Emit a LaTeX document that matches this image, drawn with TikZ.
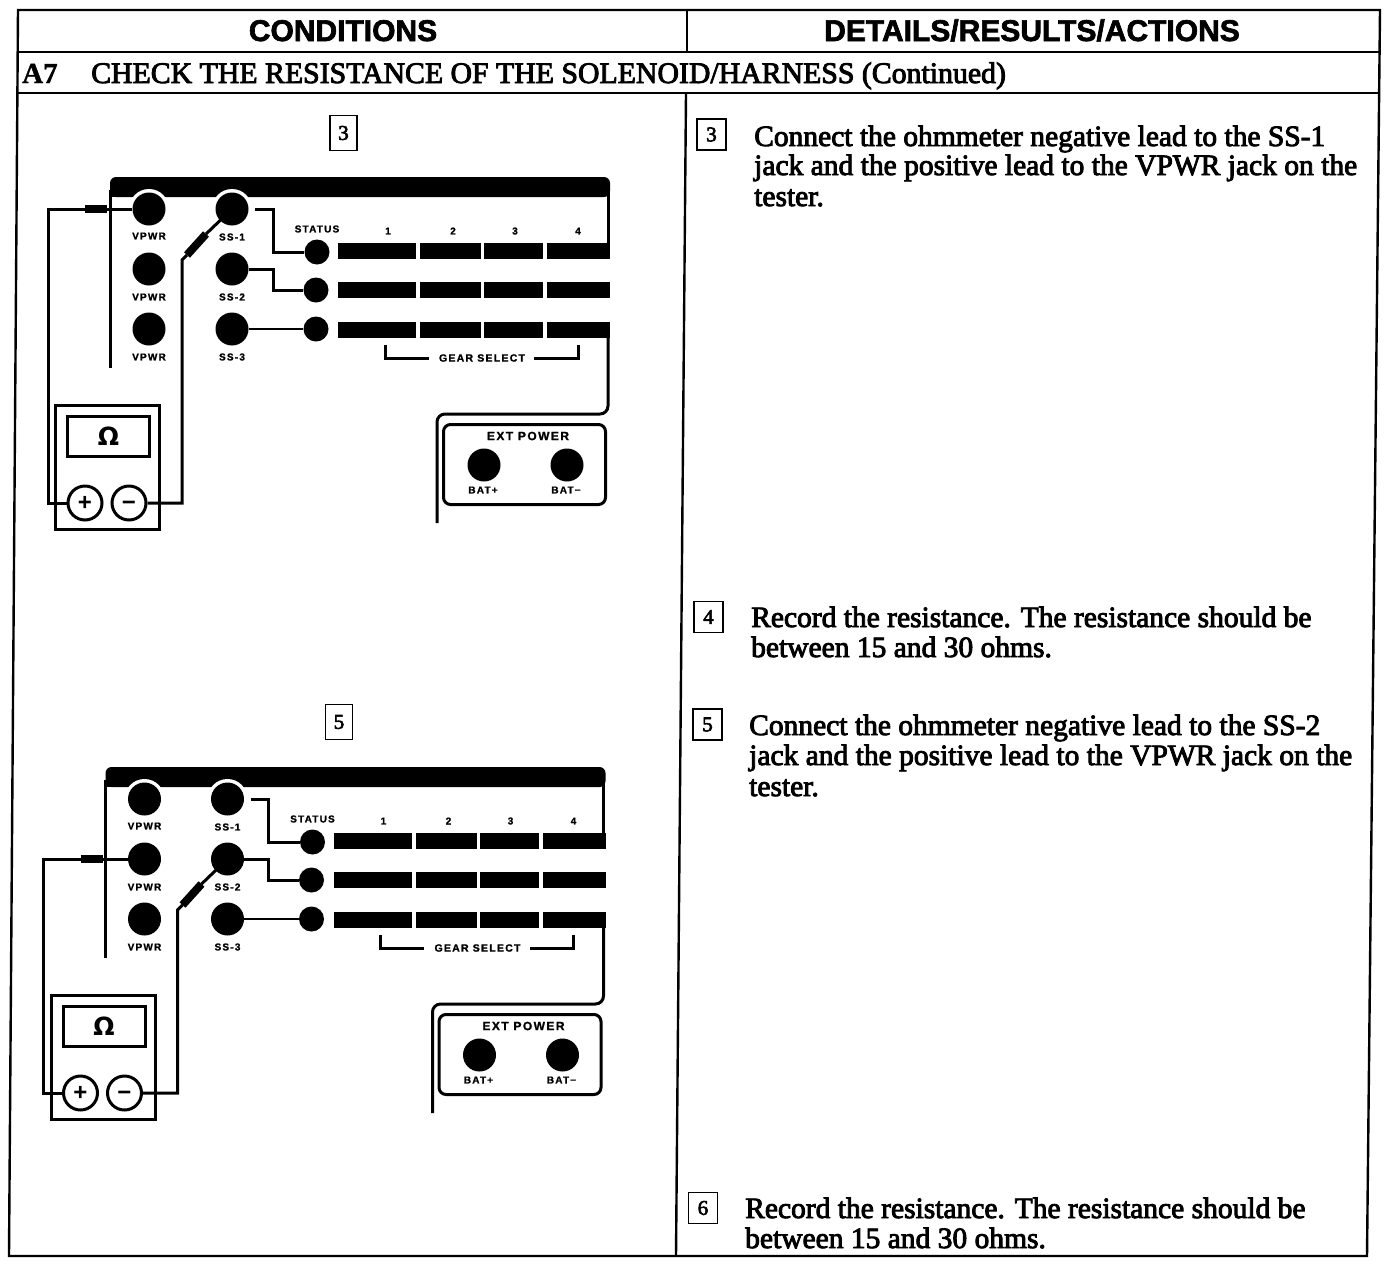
\documentclass[tikz,border=0pt]{standalone}
\usepackage{fontspec}
\setmainfont{Liberation Serif}
\setsansfont{Liberation Sans}
\newfontfamily\symfont{DejaVu Sans}
\newfontfamily\smear{Liberation Serif}[FakeBold=3]
\newfontfamily\smearb{Liberation Serif Bold}[FakeBold=1]
\newfontfamily\headf{Liberation Sans Bold}[FakeBold=2.2]
\newfontfamily\labf{Liberation Sans Bold}[LetterSpace=12,FakeBold=1.2]
\tikzset{
  x=1pt,y=-1pt,
  frame/.style={line width=2.4pt,black},
  wire/.style={line width=3pt,black},
  thinwire/.style={line width=2.2pt,black},
  plug/.style={line width=8pt,black},
  jack/.style={circle,fill=black,inner sep=0pt,minimum size=33pt},
  lamp/.style={circle,fill=black,inner sep=0pt,minimum size=25pt},
  lab/.style={font=\labf\fontsize{10}{10}\selectfont,inner sep=0pt},
  gearlab/.style={font=\labf\fontsize{10.5}{10}\selectfont,inner sep=0pt},
  extlab/.style={font=\labf\fontsize{12}{12}\selectfont,inner sep=0pt},
  bar/.style={fill=black},
  head/.style={font=\headf\fontsize{30}{30}\selectfont,inner sep=0pt,anchor=base},
  title/.style={font=\smear\fontsize{29.8}{30}\selectfont,anchor=base west,inner sep=0pt},
  titleb/.style={font=\smearb\fontsize{29}{30}\selectfont,anchor=base west,inner sep=0pt},
  body/.style={font=\smear\fontsize{29.5}{30}\selectfont,anchor=base west,inner sep=0pt},
  numbox/.style={draw,line width=1.8pt,font=\smear\fontsize{21}{22}\selectfont,inner sep=0pt,minimum width=29pt,minimum height=31pt},
  numboxtall/.style={numbox,minimum width=27pt,minimum height=35pt},
  term/.style={circle,draw,line width=3pt,fill=white,inner sep=0pt,minimum size=34pt,font=\sffamily\bfseries\fontsize{24}{24}\selectfont},
}
% #1 prefix, #2 dx, #3 dy, #4 y of the live VPWR/SS row
\newcommand\panel[4]{
\begin{scope}[shift={(#2,#3)}]
  \fill[black,rounded corners=6pt] (110,177) -- (610,177) -- (610,197) -- (110,197) -- cycle;
  \fill[black] (109,190) rectangle (200,197);
  \draw[wire] (110,190) -- (110,368);
  \draw[wire] (608,190) -- (608,250);
  \fill[white] (149,209) circle (20);
  \fill[white] (232,209) circle (20);
  \node[jack] (#1v1) at (149,209) {};
  \node[jack] (#1v2) at (149,269) {};
  \node[jack] (#1v3) at (149,329) {};
  \node[jack] (#1s1) at (232,209) {};
  \node[jack] (#1s2) at (232,269) {};
  \node[jack] (#1s3) at (232,329) {};
  \node[lab] (#1lv1) at (149,236) {VPWR};
  \node[lab] (#1lv2) at (149,297) {VPWR};
  \node[lab] (#1lv3) at (149,357) {VPWR};
  \node[lab] (#1ls1) at (232,237) {SS-1};
  \node[lab] (#1ls2) at (232,297) {SS-2};
  \node[lab] (#1ls3) at (232,357) {SS-3};
  \node[lab] (#1st) at (317,229) {STATUS};
  \node[lab] (#1n1) at (388,231) {1};
  \node[lab] (#1n2) at (453,231) {2};
  \node[lab] (#1n3) at (515,231) {3};
  \node[lab] (#1n4) at (578,231) {4};
  \node[lamp] (#1l1) at (317,252) {};
  \node[lamp] (#1l2) at (316,290) {};
  \node[lamp] (#1l3) at (316,329) {};
  \foreach \yy in {243,282,322}{
    \fill[bar] (338,\yy) rectangle (416,\yy+16);
    \fill[bar] (420,\yy) rectangle (481,\yy+16);
    \fill[bar] (484,\yy) rectangle (543,\yy+16);
    \fill[bar] (547,\yy) rectangle (610,\yy+16);
  }
  \coordinate (#1a) at (255,209);
  \draw[wire] (#1a) -- (273,209) -- (273,252) -- (#1l1.west);
  \draw[wire] (#1s2.east) -- (273,269) -- (273,290) -- (#1l2.west);
  \draw[thinwire] (#1s3.east) -- (#1l3.west);
  % gear select
  \node[gearlab] (#1gs) at (482,358) {GEAR SELECT};
  \draw[wire] (385,345) -- (385,358) -- ([xshift=-10pt]#1gs.west);
  \draw[wire] ([xshift=9pt]#1gs.east) -- (578,358) -- (578,345);
  % power
  \draw[wire,rounded corners=8pt] (608,338) -- (608,414) -- (437,414) -- (437,523);
  \node[draw,line width=3pt,rounded corners=7pt,minimum width=162pt,minimum height=80pt,inner sep=0pt] (#1ext) at (524.5,464.5) {};
  \node[extlab] (#1et) at (528,436) {EXT POWER};
  \node[jack] (#1b1) at (484,465) {};
  \node[jack] (#1b2) at (567,465) {};
  \node[lab] (#1lb1) at (483,490) {BAT+};
  \node[lab] (#1lb2) at (566,490) {BAT−};
  % meter
  \node[draw,line width=3pt,minimum width=104pt,minimum height=124pt,inner sep=0pt] (#1m) at (107.5,467.5) {};
  \node[draw,line width=3pt,minimum width=82pt,minimum height=40pt,inner sep=0pt,font=\symfont\bfseries\fontsize{25}{25}\selectfont] (#1d) at (108.5,436.5) {Ω};
  \node[term] (#1plus) at (85,503) {\vphantom{+}+};
  \node[term] (#1minus) at (129,503) {\vphantom{+}−};
  % leads
  \coordinate (#1pa) at (85,#4);
  \coordinate (#1pb) at (107,#4);
  \coordinate (#1pc) at (48,503);
  \coordinate (#1pd) at (48,#4);
  \draw[wire] (#1plus.west) -- (#1pc) -- (#1pd) -- (#1pa);
  \draw[wire] (#1pb) -- (#1v\ifnum#4=209 1\else2\fi.west);
  \draw[plug] (#1pa) -- (#1pb);
  \coordinate (#1na) at (182,503);
  \coordinate (#1nb) at (182,#4+51);
  \coordinate (#1nc) at (187,#4+46);
  \coordinate (#1nd) at (206,#4+25);
  \draw[wire] (#1minus.east) -- (#1na) -- (#1nb) -- (#1nc);
  \draw[plug] (#1nc) -- (#1nd);
  \draw[wire] (#1nd) -- (#1s\ifnum#4=209 1\else2\fi.center);
\end{scope}
}
\begin{document}
\begin{tikzpicture}
\useasboundingbox (0,0) rectangle (1392,1272);
\fill[white] (0,0) rectangle (1392,1272);
% frame
\coordinate (tl) at (18,10); \coordinate (tr) at (1380,10);
\coordinate (bl) at (9,1256); \coordinate (br) at (1367,1256);
\draw[frame] (tl) -- (tr) -- (br) -- (bl) -- cycle;
\draw[frame] (17,52) -- (1379,52);
\draw[frame] (16,93) -- (1378,93);
\draw[frame] (687,10) -- (687,52);
\draw[frame] (686,93) -- (676,1256);
% headings
\node[head] (h1) at (343,41) {CONDITIONS};
\node[head] (h2) at (1032,41) {DETAILS/RESULTS/ACTIONS};
\node[titleb] (a7) at (22,83) {A7};
\node[title] (t) at (91,83) {CHECK THE RESISTANCE OF THE SOLENOID/HARNESS (Continued)};
% number boxes
\node[numboxtall] (b3l) at (343.5,133) {3};
\node[numboxtall] (b5l) at (339,722) {5};
\node[numbox] (b3r) at (711.5,134.5) {3};
\node[numbox] (b4r) at (708.5,617) {4};
\node[numbox] (b5r) at (707.5,724.5) {5};
\node[numbox] (b6r) at (703,1208) {6};
% body
\node[body] (x1) at (754,146) {Connect the ohmmeter negative lead to the SS-1};
\node[body] (x2) at (754,175) {jack and the positive lead to the VPWR jack on the};
\node[body] (x3) at (754,206) {tester.};
\node[body] (x4) at (751,627) {Record the resistance. The resistance should be};
\node[body] (x5) at (751,657) {between 15 and 30 ohms.};
\node[body] (x6) at (749,735) {Connect the ohmmeter negative lead to the SS-2};
\node[body] (x7) at (749,765) {jack and the positive lead to the VPWR jack on the};
\node[body] (x8) at (749,796) {tester.};
\node[body] (x9) at (745,1218) {Record the resistance. The resistance should be};
\node[body] (x10) at (745,1248) {between 15 and 30 ohms.};
\panel{p}{0}{0}{209}
\panel{q}{-4.5}{590}{269}
\end{tikzpicture}
\end{document}
